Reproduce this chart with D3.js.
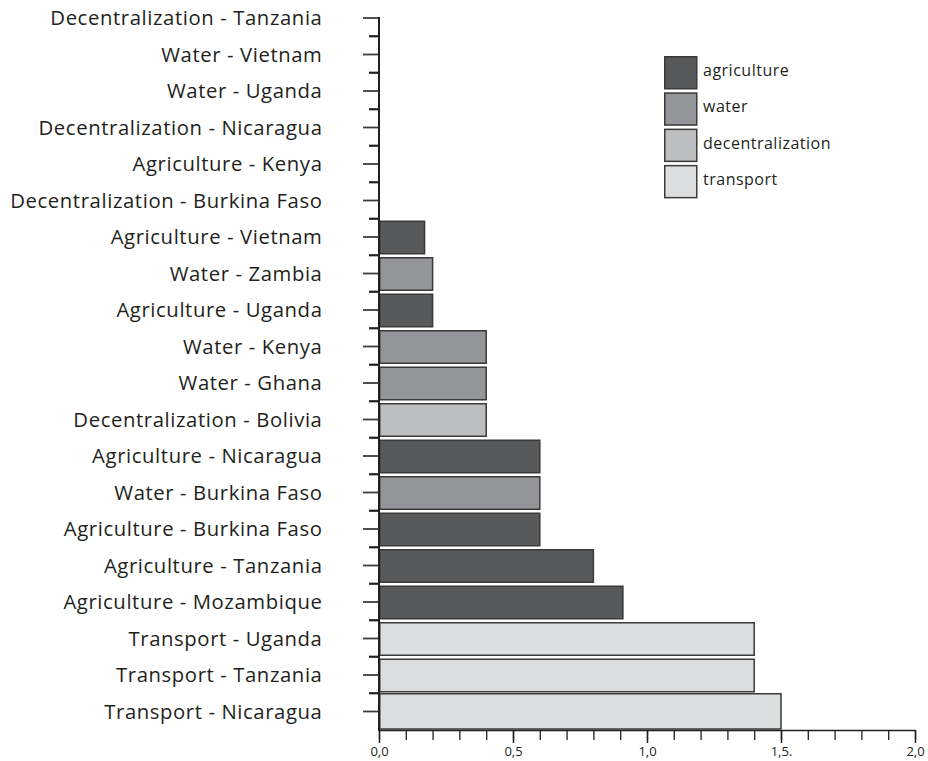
<!DOCTYPE html>
<html><head><meta charset="utf-8">
<script src="https://cdn.jsdelivr.net/npm/d3@7"></script>
<style>body{margin:0;background:#fff}svg{display:block}</style></head>
<body>
<svg id="chart" width="928" height="761"></svg>
<script>
const categories = [
  "Decentralization - Tanzania","Water - Vietnam","Water - Uganda","Decentralization - Nicaragua",
  "Agriculture - Kenya","Decentralization - Burkina Faso","Agriculture - Vietnam","Water - Zambia",
  "Agriculture - Uganda","Water - Kenya","Water - Ghana","Decentralization - Bolivia",
  "Agriculture - Nicaragua","Water - Burkina Faso","Agriculture - Burkina Faso","Agriculture - Tanzania",
  "Agriculture - Mozambique","Transport - Uganda","Transport - Tanzania","Transport - Nicaragua"
];
const sectors = [
  "decentralization","water","water","decentralization",
  "agriculture","decentralization","agriculture","water",
  "agriculture","water","water","decentralization",
  "agriculture","water","agriculture","agriculture",
  "agriculture","transport","transport","transport"
];
const values = [0,0,0,0,0,0,0.17,0.2,0.2,0.4,0.4,0.4,0.6,0.6,0.6,0.8,0.91,1.4,1.4,1.5];
const legendLabels = ["agriculture","water","decentralization","transport"];
const legendColors = ["#58595b","#939598","#bcbec0","#dcdddf"];
const xTickValues = [0,0.5,1.0,1.5,2.0];
const xTickLabels = ["0,0","0,5","1,0","1,5.","2,0"];
const xMinorTicks = [0,0.1,0.2,0.3,0.4,0.5,0.6,0.7,0.8,0.9,1.0,1.1,1.2,1.3,1.4,1.5,1.6,1.7,1.8,1.9,2.0];

const FONT = "'Open Sans', Lato, sans-serif";
const INK = "#231f20";
const svg = d3.select("#chart");

const x0 = 379, x1 = 915, yTop = -0.25, yBot = 729.75, axisY = 730;
const x = d3.scaleLinear().domain([0, 2]).range([x0, x1]);
const y = d3.scaleBand().domain(categories).range([yTop, yBot]).padding(0);
const color = d3.scaleOrdinal().domain(legendLabels).range(legendColors);

// bars
const bw = y.bandwidth();
svg.append("g").selectAll("rect")
  .data(categories.map((c, i) => ({c, s: sectors[i], v: values[i], i})).filter(d => d.v > 0))
  .join("rect")
  .attr("x", x(0) + 0.75)
  .attr("y", d => y(d.c) + 2.5)
  .attr("width", d => x(d.v) - x(0) - 0.75)
  .attr("height", d => d.i === categories.length - 1 ? axisY - 1 - (y(d.c) + 0.5) : bw - 4)
  .attr("transform", d => d.i === categories.length - 1 ? "translate(0,-2)" : null)
  .attr("fill", d => color(d.s))
  .attr("stroke", "#3a3a3b")
  .attr("stroke-width", 1.5);

// left axis: long ticks at centres, with labels
const yAxis = d3.axisLeft(y).tickSize(16).tickSizeOuter(0).tickPadding(40.5);
const gy = svg.append("g").attr("transform", `translate(${x0},0)`).call(yAxis);
gy.select(".domain").remove();
gy.selectAll(".tick line").attr("stroke", "#3d3d3e").attr("stroke-width", 1.8);
gy.selectAll(".tick text").attr("font-family", FONT).attr("font-size", 20.3)
  .attr("letter-spacing", "0.6px").attr("fill", INK).attr("dy", "0.35em");

// short ticks at band boundaries
svg.append("g").selectAll("line")
  .data(categories.slice(0, -1))
  .join("line")
  .attr("x1", x0 - 10).attr("x2", x0)
  .attr("y1", d => y(d) + bw).attr("y2", d => y(d) + bw)
  .attr("stroke", INK).attr("stroke-width", 2.2);

// y-axis line
svg.append("line")
  .attr("x1", x0).attr("x2", x0)
  .attr("y1", y(categories[0]) + bw / 2 - 1).attr("y2", axisY + 1)
  .attr("stroke", INK).attr("stroke-width", 2);

// x axis minor ticks
const gxm = svg.append("g").attr("transform", `translate(0,${axisY})`)
  .call(d3.axisBottom(x).tickValues(xMinorTicks).tickSize(10).tickFormat(""));
gxm.select(".domain").remove();
gxm.selectAll(".tick line").attr("stroke", INK).attr("stroke-width", 1.3);

// x axis major ticks with labels
const gx = svg.append("g").attr("transform", `translate(0,${axisY})`)
  .call(d3.axisBottom(x).tickValues(xTickValues).tickSize(13).tickSizeOuter(0).tickPadding(4)
    .tickFormat((d, i) => xTickLabels[i]));
gx.select(".domain").attr("stroke", INK).attr("stroke-width", 1.5);
gx.selectAll(".tick line").attr("stroke", INK).attr("stroke-width", 1.5);
gx.selectAll(".tick text").attr("font-family", FONT).attr("font-size", 13).attr("fill", INK);

// legend
const lg = svg.append("g").attr("transform", "translate(664,56)");
const item = lg.selectAll("g").data(legendLabels).join("g")
  .attr("transform", (d, i) => `translate(0,${i * 36.3})`);
item.append("rect").attr("x", 0.75).attr("y", 0.75).attr("width", 32).attr("height", 32)
  .attr("fill", d => color(d)).attr("stroke", "#3a3a3b").attr("stroke-width", 1.5);
item.append("text").attr("x", 39).attr("y", 20)
  .attr("font-family", FONT).attr("font-size", 16).attr("letter-spacing", "0.5px")
  .attr("fill", INK).text(d => d);
</script>
</body></html>
